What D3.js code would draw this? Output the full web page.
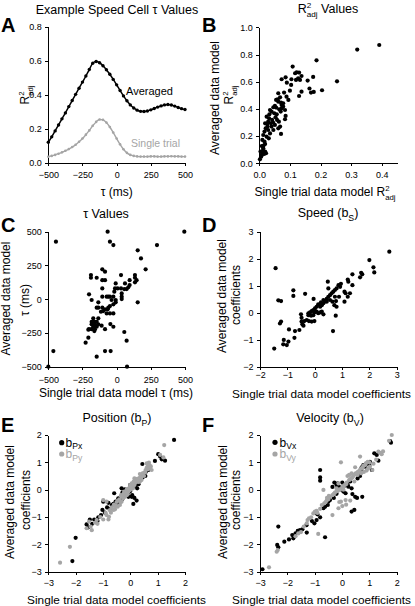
<!DOCTYPE html>
<html><head><meta charset="utf-8">
<script src="https://cdn.jsdelivr.net/npm/d3@7"></script>
<style>
body{margin:0;background:#fff}
svg{display:block}
text{font-family:"Liberation Sans",Arial,Helvetica,sans-serif;fill:#000}
.axis path,.axis line{stroke:#000;stroke-width:1;shape-rendering:crispEdges}
.axis text{font-size:9px;font-family:"Liberation Sans",Arial,sans-serif}
</style>
</head><body>
<svg id="c" width="415" height="606"></svg>
<script>
// ---------- DATA ----------
const tauMs = [-500,-475,-450,-425,-400,-375,-350,-325,-300,-275,-250,-225,-200,-175,-150,-125,-100,-75,-50,-25,0,25,50,75,100,125,150,175,200,225,250,275,300,325,350,375,400,425,450,475,500];
const averagedR2 = [0.12,0.152,0.187,0.222,0.258,0.293,0.33,0.366,0.402,0.438,0.474,0.51,0.548,0.585,0.595,0.588,0.57,0.547,0.52,0.49,0.458,0.425,0.393,0.364,0.34,0.322,0.309,0.302,0.301,0.304,0.311,0.319,0.327,0.334,0.34,0.342,0.339,0.333,0.325,0.318,0.313];
const singleR2 = [0.035,0.04,0.046,0.053,0.061,0.07,0.08,0.092,0.106,0.123,0.142,0.165,0.19,0.217,0.24,0.254,0.252,0.236,0.21,0.177,0.142,0.108,0.079,0.058,0.046,0.04,0.037,0.036,0.036,0.036,0.037,0.037,0.036,0.036,0.037,0.037,0.038,0.037,0.037,0.036,0.036];

// Panel B: [single trial R2adj, averaged R2adj]
const r2Pairs = [[0.392,0.87],[0.32,0.836],[0.187,0.757],[0.254,0.603],[0.205,0.537],[0.109,0.711],[0.176,0.635],[0.178,0.525],[0.169,0.52],[0.164,0.55],[0.158,0.608],[0.138,0.642],[0.13,0.667],[0.122,0.669],[0.117,0.662],[0.127,0.625],[0.133,0.613],[0.12,0.613],[0.138,0.527],[0.13,0.495],[0.105,0.618],[0.104,0.576],[0.09,0.593],[0.073,0.618],[0.086,0.632],[0.1,0.534],[0.095,0.466],[0.081,0.52],[0.089,0.49],[0.062,0.515],[0.068,0.485],[0.06,0.47],[0.055,0.466],[0.062,0.453],[0.071,0.446],[0.073,0.429],[0.078,0.417],[0.084,0.392],[0.086,0.348],[0.084,0.324],[0.071,0.216],[0.051,0.422],[0.046,0.412],[0.04,0.38],[0.035,0.392],[0.049,0.368],[0.053,0.338],[0.058,0.319],[0.064,0.306],[0.068,0.27],[0.062,0.257],[0.042,0.319],[0.038,0.294],[0.032,0.331],[0.029,0.306],[0.027,0.27],[0.024,0.343],[0.019,0.294],[0.021,0.257],[0.017,0.233],[0.013,0.208],[0.029,0.245],[0.035,0.22],[0.024,0.196],[0.01,0.172],[0.017,0.159],[0.008,0.127],[0.019,0.142],[0.013,0.11],[0.004,0.086],[0.01,0.074],[0.016,0.069],[0.022,0.074],[0.006,0.049],[0.002,0.029],[0.012,0.093],[0.04,0.27],[0.046,0.245],[0.051,0.282],[0.057,0.36],[0.065,0.397],[0.073,0.404],[0.078,0.441],[0.031,0.184],[0.019,0.086],[0.008,0.06],[0.014,0.13],[0.026,0.29],[0.033,0.36],[0.045,0.3],[0.055,0.41],[0.07,0.38]];

// Panel C: [single trial tau, averaged tau] (ms)
const tauPairs = [[-66,500],[495,500],[-444,426],[-49,426],[-24,401],[295,401],[154,362],[178,302],[212,221],[-105,221],[-85,204],[-188,179],[-188,159],[-146,159],[-105,141],[-85,141],[32,179],[134,179],[134,159],[146,141],[134,125],[95,141],[61,117],[-7,117],[95,105],[85,88],[73,75],[56,75],[32,80],[7,80],[-12,80],[-105,80],[-17,56],[37,43],[37,19],[37,1],[-24,19],[-49,19],[-61,19],[-73,19],[-7,-6],[-37,-6],[-7,-23],[-24,-38],[-49,-51],[-61,-63],[-66,-75],[-85,-75],[-105,-63],[-134,-63],[-146,-63],[-73,-105],[-49,-105],[-24,-105],[-98,-88],[-115,-93],[-202,36],[-183,-6],[-105,19],[154,-23],[-134,-23],[-171,-142],[-171,-167],[-159,-167],[-146,-167],[-134,-142],[-183,-167],[-183,-186],[-159,-186],[-171,-204],[-146,-204],[-134,-186],[-183,-222],[-159,-222],[-202,-222],[-110,-196],[-85,-222],[-46,-184],[-24,-204],[-163,-236],[-207,-226],[-207,-285],[-227,-322],[56,-243],[73,-307],[-463,-384],[-85,-384],[-44,-384],[-146,-426],[-500,-500],[76,-500]];

// Panel D: speed coefficients [single trial, averaged]
const speedPairs = [[2.73,2.26],[2.0,1.95],[2.15,1.68],[2.18,1.49],[1.70,1.48],[1.74,1.42],[1.66,1.31],[1.38,1.42],[1.21,1.23],[1.23,1.15],[1.38,1.02],[1.09,0.78],[1.13,0.72],[1.29,0.72],[1.21,0.59],[1.09,0.41],[0.96,1.07],[0.87,1.02],[0.93,0.96],[0.80,0.90],[0.74,0.84],[0.68,0.78],[0.62,0.72],[0.56,0.65],[0.50,0.59],[0.44,0.51],[0.38,0.43],[0.32,0.35],[0.26,0.28],[0.20,0.22],[0.48,1.15],[0.50,0.90],[0.74,0.59],[0.78,0.43],[0.89,0.59],[0.65,0.41],[0.56,0.47],[0.44,0.41],[0.32,0.47],[0.23,0.38],[0.13,0.31],[0.07,0.22],[0.01,0.16],[-0.05,0.10],[-0.11,0.06],[-0.17,0.01],[-0.23,-0.02],[-0.01,0.01],[0.07,0.04],[0.20,0.01],[0.26,0.04],[0.32,-0.06],[0.13,-0.02],[-0.05,-0.09],[-0.13,-0.11],[-0.23,-0.09],[-0.38,-0.31],[-0.29,-0.27],[-0.21,-0.31],[-0.11,-0.33],[-0.01,-0.31],[-0.48,-0.33],[-0.45,-0.43],[-0.50,-0.06],[-0.48,-0.19],[-0.04,0.51],[-0.35,0.70],[0.77,-0.11],[0.67,-0.68],[0.80,0.22],[0.72,0.28],[-1.43,1.65],[-1.33,0.46],[-1.23,0.43],[-0.78,0.83],[-0.78,0.62],[-1.27,-0.40],[-1.23,-0.33],[-0.94,-0.62],[-0.72,-0.68],[-0.56,-0.64],[-0.41,-0.48],[-0.74,-0.93],[-0.96,-1.07],[-1.13,-1.01],[-1.15,-1.17],[-1.02,-1.20],[-1.48,-1.33]];

// Panel E: position coefficients
const posXPairs = [[1.60,1.82],[-2.12,-2.61],[-2.0,-1.76],[1.02,1.30],[1.09,1.21],[1.15,1.11],[0.44,0.94],[0.57,0.66],[0.27,0.35],[0.15,0.23],[-0.01,0.17],[-0.20,0.01],[-0.32,0.05],[-0.29,-0.11],[-0.20,-0.20],[-0.07,-0.26],[0.05,-0.26],[0.23,-0.40],[0.11,-0.52],[-0.44,-0.32],[-0.54,-0.44],[-0.62,-0.52],[-0.68,-0.56],[-0.80,-0.48],[-0.99,-0.44],[-0.93,-0.84],[-1.02,-0.74],[-1.07,-0.93],[-1.17,-1.01],[-1.32,-1.09],[-1.48,-1.09],[-1.60,-1.27],[-0.59,-0.13],[-0.46,-0.48],[-0.07,-0.11],[0.07,-0.20],[0.35,0.41],[0.48,0.54],[0.66,0.72],[1.27,1.06],[-0.1,0.0],[0.0,-0.05],[0.1,0.1],[0.2,0.15],[0.3,0.2],[0.45,0.45],[0.55,0.5],[-0.3,-0.35],[-0.4,-0.45],[-0.75,-0.7],[-0.85,-0.65],[-1.2,-1.15],[-1.4,-1.25],[-1.55,-1.38],[0.9,1.05],[0.7,0.85],[0.25,0.05],[0.15,-0.3]];
const posYPairs = [[1.24,1.63],[-2.57,-2.67],[-2.21,-2.09],[-1.60,-1.41],[-1.41,-1.48],[-1.51,-1.17],[-1.29,-1.21],[-1.23,-1.11],[-0.99,-1.09],[-0.80,-1.09],[-0.78,-0.99],[-0.87,-0.93],[-0.71,-0.84],[-0.56,-0.72],[-0.46,-0.62],[-0.99,-0.38],[-0.87,-0.44],[-0.68,-0.65],[-0.38,-0.56],[-0.32,-0.44],[-0.26,-0.32],[-0.20,-0.26],[-0.13,-0.20],[-0.07,-0.07],[-0.01,-0.01],[0.02,0.05],[0.07,0.11],[0.15,0.17],[0.20,0.26],[0.27,0.33],[0.32,0.41],[0.39,0.48],[0.44,0.54],[0.51,0.62],[0.56,0.72],[0.63,0.84],[0.72,0.82],[0.78,0.72],[0.68,0.99],[0.60,0.96],[1.21,1.18],[1.09,1.27],[-0.22,-0.07],[-0.13,0.01],[0.05,0.23],[0.23,0.35],[0.35,0.57],[0.41,0.35],[0.15,0.41],[-0.01,0.17],[-0.34,-0.20],[-0.56,-0.60],[-0.62,-0.74],[0.30,0.28],[0.10,0.05],[-0.45,-0.40],[-0.9,-0.85],[-0.75,-0.75],[-0.6,-0.55],[-0.5,-0.45],[-0.4,-0.35],[-0.3,-0.25],[-0.25,-0.15],[-0.15,-0.1],[-0.05,0.05],[0.0,0.1],[0.1,0.2],[0.2,0.3],[0.3,0.35],[0.4,0.45],[0.45,0.6],[0.55,0.65],[0.65,0.75],[0.7,0.9],[0.75,0.85],[0.5,0.5],[0.6,0.8],[-1.1,-1.0],[-1.2,-1.25],[-1.45,-1.35],[0.35,0.3],[0.25,0.4],[0.12,0.3],[-0.1,-0.15],[-0.35,-0.45],[-0.5,-0.6]];

// Panel F: velocity coefficients
const velXPairs = [[-2.91,-2.91],[-2.33,-1.35],[-2.37,-2.02],[-2.33,-2.11],[-2.11,-1.90],[-1.94,-1.82],[-1.78,-1.78],[-1.82,-1.66],[-1.70,-1.60],[-1.62,-1.51],[-1.54,-1.48],[-1.29,-1.57],[-1.01,-1.23],[-0.93,-1.11],[-0.80,-1.01],[-0.62,-1.74],[-0.80,0.72],[-0.80,0.45],[-0.80,0.33],[-0.68,-0.68],[-0.62,-0.62],[-0.52,-0.56],[-0.50,-0.44],[-0.44,-0.38],[-0.28,0.26],[-0.16,0.23],[-0.20,0.17],[-0.11,0.11],[0.01,0.26],[-0.04,0.01],[0.05,-0.07],[0.13,-0.13],[0.23,0.11],[0.35,0.05],[0.38,-0.16],[0.48,-0.26],[0.35,-0.80],[0.45,-0.74],[0.74,-0.26],[0.57,0.41],[0.66,0.50],[0.72,0.82],[0.78,0.90],[0.84,0.84],[0.70,0.74],[1.02,1.02],[1.09,0.72],[1.18,1.33],[1.27,1.27],[1.33,1.06],[1.76,1.78],[1.79,1.72],[0.2,0.2],[0.3,0.3],[-0.3,-0.3],[-0.2,-0.15],[0.0,0.05],[0.1,0.15],[0.9,0.95],[1.0,0.9],[-1.1,-1.15],[-0.9,-0.9],[-1.3,-1.3],[-1.45,-1.45],[0.6,0.65],[-0.35,0.1],[0.55,-0.3]];
const velYPairs = [[-2.67,-2.84],[-2.39,-2.27],[-2.35,-2.21],[-1.29,-1.23],[-1.26,-1.11],[-1.21,-1.05],[-1.13,-1.01],[-0.87,-1.62],[-1.05,-0.87],[-0.99,-0.80],[-0.93,-0.77],[-0.35,-0.93],[-0.13,-0.68],[-0.04,-0.44],[-0.68,-0.01],[-0.74,-0.56],[-0.65,-0.50],[-0.56,-0.40],[-0.44,-0.26],[-0.35,-0.20],[-0.26,-0.11],[-0.16,-0.05],[-0.07,0.01],[0.01,0.09],[0.09,0.17],[0.17,0.26],[0.26,0.35],[0.33,0.41],[0.41,0.50],[0.50,0.60],[0.60,0.66],[0.70,0.78],[0.78,0.87],[0.87,0.96],[0.94,1.02],[1.02,0.84],[1.11,0.72],[0.96,0.78],[0.70,0.60],[0.57,0.54],[0.35,0.60],[0.20,0.50],[0.66,1.21],[-0.04,1.00],[0.13,-0.38],[0.01,-0.60],[1.33,1.39],[1.39,1.35],[1.82,2.0],[1.72,1.79],[-0.13,0.23],[-0.48,-0.23],[0.26,0.54],[0.48,0.82],[-0.20,0.05],[-0.55,-0.30],[0.05,0.00],[-1.5,-1.55],[-1.4,-1.35],[-1.6,-1.6],[-0.9,-0.85],[-0.8,-0.7],[-0.6,-0.45],[-0.5,-0.35],[-0.3,-0.15],[-0.2,-0.05],[-0.1,0.0],[0.05,0.12],[0.15,0.2],[0.3,0.38],[0.38,0.45],[0.45,0.55],[0.55,0.62],[0.65,0.72],[0.75,0.8],[0.85,0.9],[1.0,1.0],[1.15,0.95],[1.25,1.1],[1.45,1.3],[1.5,1.4],[0.9,0.7],[0.8,0.65],[0.3,-0.4],[0.15,-0.55],[-0.1,-0.45],[0.45,0.3],[-1.7,-1.7]];

// tick labels
const ticksA_x = [-500,-250,0,250,500], ticksA_y = [0,0.2,0.4,0.6,0.8];
const ticksB_x = [0,0.1,0.2,0.3,0.4], ticksB_y = [0,0.2,0.4,0.6,0.8,1.0];
const ticksC = [-500,-250,0,250,500];
const ticksD = [-2,-1,0,1,2,3];
const ticksEF = [-3,-2,-1,0,1,2];

// ---------- DRAW ----------
const svg = d3.select("#c");
const GRAY = "#a5a5a5";
const FONT = 12;

function rich(parent, x, y, parts, opts = {}) {
  const size = opts.size || FONT;
  const g = parent.append("g").attr("transform", `translate(${x},${y})` + (opts.rotate ? ` rotate(${opts.rotate})` : ""));
  const t = g.append("text").attr("text-anchor", opts.anchor || "middle").style("font-size", size + "px");
  if (opts.fill) t.style("fill", opts.fill);
  let cur = 0, prevW = 0;
  parts.forEach(p => {
    const s = (p.s || 1) * size;
    const off = p.dy || 0;
    const ts = t.append("tspan").text(p.t).style("font-size", s + "px");
    if (opts.fill) ts.style("fill", opts.fill);
    if (off !== cur) ts.attr("dy", off - cur);
    if (p.back) ts.attr("dx", -prevW);
    cur = off;
    prevW = ts.node().getComputedTextLength();
  });
  return g;
}
const R2 = (size) => [{t:"R"},{t:"2",s:0.65,dy:-0.42*size},{t:"adj",s:0.65,dy:0.3*size,back:true}];

function axes(g, x, y, xt, yt, fx, fy, xPad, yPad) {
  const ax = g.append("g").attr("class","axis").attr("transform",`translate(0,${y.range()[0]})`)
    .call(d3.axisBottom(x).tickValues(xt).tickFormat(fx).tickSize(3).tickSizeOuter(0).tickPadding(xPad));
  const ay = g.append("g").attr("class","axis").attr("transform",`translate(${x.range()[0]},0)`)
    .call(d3.axisLeft(y).tickValues(yt).tickFormat(fy).tickSize(3).tickSizeOuter(0).tickPadding(yPad));
  [ax, ay].forEach(a => a.selectAll("text").style("fill","#000"));
}
function dots(g, x, y, data, color, r) {
  g.append("g").selectAll("circle").data(data).join("circle")
    .attr("cx", d => x(d[0])).attr("cy", d => y(d[1])).attr("r", r).attr("fill", color);
}
function letter(t, x, y) {
  svg.append("text").attr("x", x).attr("y", y).text(t)
    .style("font-size","20px").style("font-weight","bold");
}
const fInt = d3.format("d"), f1 = d3.format(".1f");

// ----- Panel A -----
{
  const x = d3.scaleLinear().domain([-500,500]).range([48.3,185]);
  const y = d3.scaleLinear().domain([0,0.8]).range([162.7,26.7]);
  axes(svg, x, y, ticksA_x, ticksA_y, fInt, f1, 6, 3.5);
  const line = d3.line().x((d,i)=>x(tauMs[i])).y(d=>y(d)).curve(d3.curveMonotoneX);
  svg.append("path").datum(singleR2).attr("d", line).attr("fill","none").attr("stroke",GRAY).attr("stroke-width",1.4);
  svg.append("g").selectAll("circle").data(singleR2).join("circle")
    .attr("cx",(d,i)=>x(tauMs[i])).attr("cy",d=>y(d)).attr("r",1.3).attr("fill",GRAY);
  svg.append("path").datum(averagedR2).attr("d", line).attr("fill","none").attr("stroke","#000").attr("stroke-width",1.5);
  svg.append("g").selectAll("circle").data(averagedR2).join("circle")
    .attr("cx",(d,i)=>x(tauMs[i])).attr("cy",d=>y(d)).attr("r",1.7).attr("fill","#000");
  svg.append("text").attr("x",126).attr("y",95).text("Averaged").style("font-size","11px");
  svg.append("text").attr("x",131).attr("y",147).text("Single trial").style("font-size","10.5px").style("fill",GRAY);
  rich(svg, 117, 14, [{t:"Example Speed Cell τ Values"}], {size:12.5});
  rich(svg, 116.7, 196, [{t:"τ (ms)"}]);
  rich(svg, 29, 95, R2(12), {rotate:-90});
  letter("A", 1, 32);
}
// ----- Panel B -----
{
  const x = d3.scaleLinear().domain([0,0.45]).range([259.3,397]);
  const y = d3.scaleLinear().domain([0,1]).range([163.3,27.3]);
  axes(svg, x, y, ticksB_x, ticksB_y, f1, f1, 5, 3.5);
  dots(svg, x, y, r2Pairs, "#000", 2.1);
  rich(svg, 328, 13, [...R2(12.5), {t:" Values", dy:0}], {size:12.5});
  rich(svg, 325, 196, [{t:"Single trial data model "}, ...R2(12)]);
  rich(svg, 219, 98, [{t:"Averaged data model"}], {rotate:-90});
  rich(svg, 233, 95, R2(12), {rotate:-90});
  letter("B", 202, 32);
}
// ----- Panel C -----
{
  const x = d3.scaleLinear().domain([-500,500]).range([48.3,185]);
  const y = d3.scaleLinear().domain([-500,500]).range([366.7,231.7]);
  axes(svg, x, y, ticksC, ticksC, fInt, fInt, 7, 3.5);
  dots(svg, x, y, tauPairs, "#000", 2.1);
  rich(svg, 106, 218, [{t:"τ Values"}], {size:12.5});
  rich(svg, 116, 397, [{t:"Single trial data model τ (ms)"}]);
  rich(svg, 9.5, 298.5, [{t:"Averaged data model"}], {rotate:-90});
  rich(svg, 29, 300, [{t:"τ (ms)"}], {rotate:-90});
  letter("C", 1, 232);
}
// ----- Panel D -----
{
  const x = d3.scaleLinear().domain([-2,3]).range([260,396.7]);
  const y = d3.scaleLinear().domain([-2,3]).range([366.7,231.7]);
  axes(svg, x, y, ticksD, ticksD, fInt, fInt, 2, 3.5);
  dots(svg, x, y, speedPairs, "#000", 2.1);
  rich(svg, 328, 217, [{t:"Speed (b"},{t:"S",s:0.7,dy:3.5},{t:")",dy:0}], {size:12.5});
  rich(svg, 321.5, 398, [{t:"Single trial data model coefficients"}], {size:11.8});
  rich(svg, 226, 296, [{t:"Averaged data model"}], {rotate:-90});
  rich(svg, 239.5, 295, [{t:"coefficients"}], {rotate:-90});
  letter("D", 202, 232);
}
// ----- Panel E -----
{
  const x = d3.scaleLinear().domain([-3,2]).range([48.3,185]);
  const y = d3.scaleLinear().domain([-3,2]).range([571.7,435]);
  axes(svg, x, y, ticksEF, ticksEF, fInt, fInt, 5, 3.5);
  dots(svg, x, y, posXPairs, "#000", 2.1);
  dots(svg, x, y, posYPairs, GRAY, 2.1);
  svg.append("circle").attr("cx",61.7).attr("cy",442.7).attr("r",2.6).attr("fill","#000");
  svg.append("circle").attr("cx",61.7).attr("cy",454).attr("r",2.6).attr("fill",GRAY);
  rich(svg, 65.5, 446.5, [{t:"b"},{t:"Px",s:0.72,dy:2.5}], {anchor:"start", size:12});
  rich(svg, 65.5, 458, [{t:"b"},{t:"Py",s:0.72,dy:2.5}], {anchor:"start", fill:GRAY, size:12});
  rich(svg, 117, 422, [{t:"Position (b"},{t:"P",s:0.7,dy:3.5},{t:")",dy:0}], {size:12.5});
  rich(svg, 116.5, 604, [{t:"Single trial data model coefficients"}], {size:11.8});
  rich(svg, 13.5, 502, [{t:"Averaged data model"}], {rotate:-90});
  rich(svg, 29.5, 500, [{t:"coefficients"}], {rotate:-90});
  letter("E", 1, 432);
}
// ----- Panel F -----
{
  const x = d3.scaleLinear().domain([-3,2]).range([260,396.7]);
  const y = d3.scaleLinear().domain([-3,2]).range([571.7,435]);
  axes(svg, x, y, ticksEF, ticksEF, fInt, fInt, 5, 3.5);
  dots(svg, x, y, velXPairs, "#000", 2.1);
  dots(svg, x, y, velYPairs, GRAY, 2.1);
  svg.append("circle").attr("cx",275).attr("cy",442.3).attr("r",2.6).attr("fill","#000");
  svg.append("circle").attr("cx",275).attr("cy",454).attr("r",2.6).attr("fill",GRAY);
  rich(svg, 279.5, 446.5, [{t:"b"},{t:"Vx",s:0.72,dy:2.5}], {anchor:"start", size:12});
  rich(svg, 279.5, 458, [{t:"b"},{t:"Vy",s:0.72,dy:2.5}], {anchor:"start", fill:GRAY, size:12});
  rich(svg, 330, 422, [{t:"Velocity (b"},{t:"V",s:0.7,dy:3.5},{t:")",dy:0}], {size:12.5});
  rich(svg, 321.5, 604, [{t:"Single trial data model coefficients"}], {size:11.8});
  rich(svg, 227, 502, [{t:"Averaged data model"}], {rotate:-90});
  rich(svg, 239.5, 500, [{t:"coefficients"}], {rotate:-90});
  letter("F", 202, 432);
}
</script>
</body></html>
